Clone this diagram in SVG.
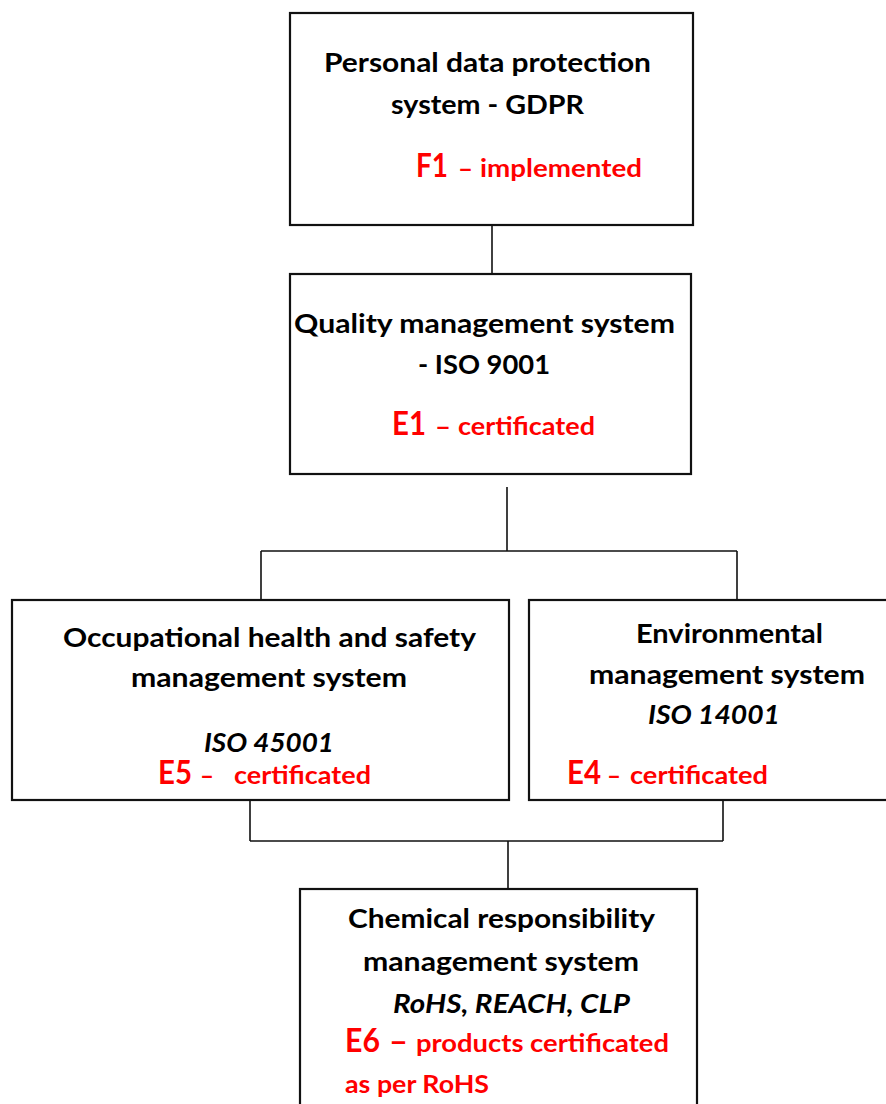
<svg xmlns="http://www.w3.org/2000/svg" width="886" height="1104" viewBox="0 0 886 1104">
<style>
.box{fill:#fff;stroke:#111;stroke-width:2.2}
.ln{fill:none;stroke:#111;stroke-width:1.6}
text{font-family:Lato,"Open Sans","Liberation Sans",sans-serif;font-weight:bold}
.b{font-size:27px;fill:#000}
.i{font-style:italic}
.r{font-size:25px;fill:#ff0000}
.big{font-size:32px;fill:#ff0000}
</style>
<rect width="886" height="1104" fill="#fff"/>
<g id="connectors">
<path class="ln" d="M492 226V274"/>
<path class="ln" d="M507 487V551M261 551H737M261 551V600M737 551V600"/>
<path class="ln" d="M250 800V841M723 800V841M250 841H723M508 841V889"/>
</g>
<g id="gdpr">
<rect class="box" x="290" y="13" width="403" height="212"/>
<text class="b" x="324" y="72" textLength="327" lengthAdjust="spacingAndGlyphs">Personal data protection</text>
<text class="b" x="391" y="114" textLength="193" lengthAdjust="spacingAndGlyphs">system - GDPR</text>
<text y="177"><tspan class="big" x="416" textLength="32" lengthAdjust="spacingAndGlyphs">F1</tspan> <tspan class="r" x="458" textLength="15" lengthAdjust="spacingAndGlyphs">–</tspan> <tspan class="r" x="480" textLength="162" lengthAdjust="spacingAndGlyphs">implemented</tspan></text>
</g>
<g id="iso9001">
<rect class="box" x="290" y="274" width="401" height="200"/>
<text class="b" x="294" y="333" textLength="381" lengthAdjust="spacingAndGlyphs">Quality management system</text>
<text class="b" x="418" y="374" textLength="132" lengthAdjust="spacingAndGlyphs">- ISO 9001</text>
<text y="435"><tspan class="big" x="392" textLength="34" lengthAdjust="spacingAndGlyphs">E1</tspan> <tspan class="r" x="435" textLength="16" lengthAdjust="spacingAndGlyphs">–</tspan> <tspan class="r" x="458" textLength="137" lengthAdjust="spacingAndGlyphs">certificated</tspan></text>
</g>
<g id="ohs">
<rect class="box" x="12" y="600" width="497" height="200"/>
<text class="b" x="63" y="647" textLength="413" lengthAdjust="spacingAndGlyphs">Occupational health and safety</text>
<text class="b" x="131" y="687" textLength="276" lengthAdjust="spacingAndGlyphs">management system</text>
<text class="b i" x="204" y="752" textLength="130" lengthAdjust="spacingAndGlyphs">ISO 45001</text>
<text y="784"><tspan class="big" x="158" textLength="34" lengthAdjust="spacingAndGlyphs">E5</tspan> <tspan class="r" x="200" textLength="14" lengthAdjust="spacingAndGlyphs">–</tspan> <tspan class="r" x="234" textLength="137" lengthAdjust="spacingAndGlyphs">certificated</tspan></text>
</g>
<g id="environmental">
<rect class="box" x="529" y="600" width="362" height="200"/>
<text class="b" x="636" y="643" textLength="187" lengthAdjust="spacingAndGlyphs">Environmental</text>
<text class="b" x="589" y="684" textLength="276" lengthAdjust="spacingAndGlyphs">management system</text>
<text class="b i" x="648" y="724" textLength="132" lengthAdjust="spacingAndGlyphs">ISO 14001</text>
<text y="784"><tspan class="big" x="567" textLength="34" lengthAdjust="spacingAndGlyphs">E4</tspan> <tspan class="r" x="607" textLength="14" lengthAdjust="spacingAndGlyphs">–</tspan> <tspan class="r" x="630" textLength="138" lengthAdjust="spacingAndGlyphs">certificated</tspan></text>
</g>
<g id="chemical">
<rect class="box" x="300" y="889" width="397" height="230"/>
<text class="b" x="348" y="928" textLength="307" lengthAdjust="spacingAndGlyphs">Chemical responsibility</text>
<text class="b" x="363" y="971" textLength="276" lengthAdjust="spacingAndGlyphs">management system</text>
<text class="b i" x="393" y="1013" textLength="237" lengthAdjust="spacingAndGlyphs">RoHS, REACH, CLP</text>
<text y="1052"><tspan class="big" x="345" textLength="35" lengthAdjust="spacingAndGlyphs">E6</tspan> <tspan class="big" x="389" textLength="19" lengthAdjust="spacingAndGlyphs">–</tspan> <tspan class="r" x="416" textLength="253" lengthAdjust="spacingAndGlyphs">products certificated</tspan></text>
<text class="r" x="345" y="1093" textLength="144" lengthAdjust="spacingAndGlyphs">as per RoHS</text>
</g>
</svg>
